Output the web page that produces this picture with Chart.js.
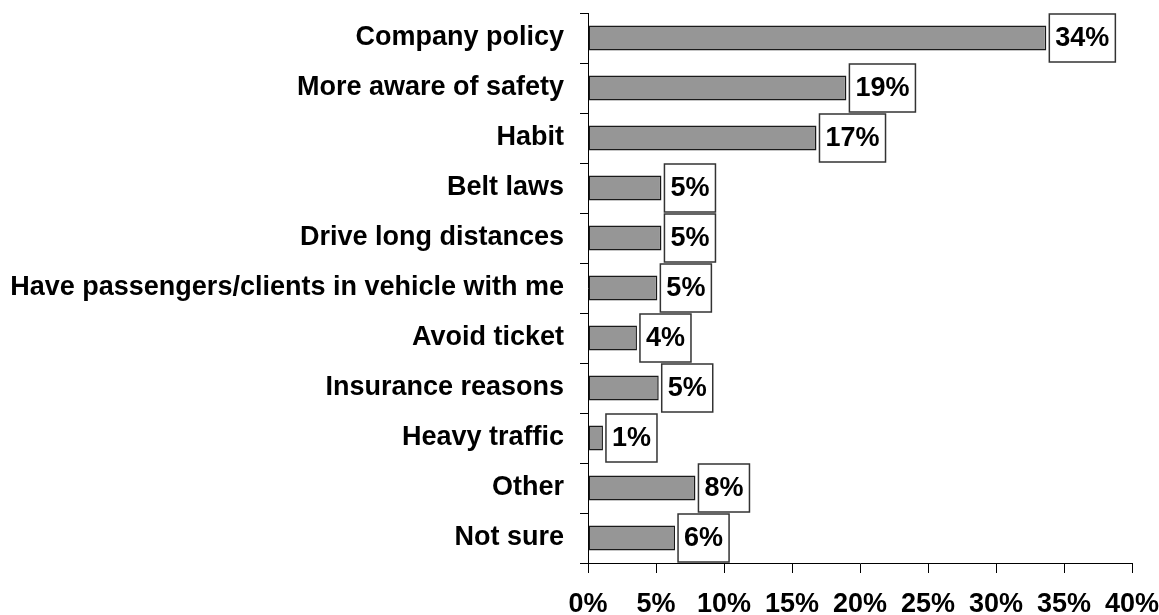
<!DOCTYPE html>
<html lang="en">
<head>
    <meta charset="UTF-8">
    <script src="https://cdn.jsdelivr.net/npm/chart.js@4.4.1/dist/chart.umd.min.js"></script>
    <title>Reasons for wearing a seat belt</title>
    <style type="text/css">
        html, body {
            margin: 0;
            padding: 0;
            background: #ffffff;
        }
        #wrap {
            width: 1159px;
            height: 615px;
        }
    </style>
</head>
<body>
<div id="wrap">
    <canvas id="reasons"></canvas>
</div>
<script>
var reasons = [
    'Company policy',
    'More aware of safety',
    'Habit',
    'Belt laws',
    'Drive long distances',
    'Have passengers/clients in vehicle with me',
    'Avoid ticket',
    'Insurance reasons',
    'Heavy traffic',
    'Other',
    'Not sure'
];
// share of respondents, percent
var shares = [33.7, 19.0, 16.8, 5.4, 5.4, 5.1, 3.6, 5.2, 1.1, 7.9, 6.4];

var axisMin = 0;
var axisMax = 40;
var axisStep = 5;

var FONT = "'Liberation Sans', Arial, Helvetica, sans-serif";

// white boxed percent labels to the right of each bar
var boxLabels = {
    id: 'boxLabels',
    afterDatasetsDraw: function (chart) {
        var ctx = chart.ctx;
        var meta = chart.getDatasetMeta(0);
        ctx.save();
        ctx.font = 'bold 27px ' + FONT;
        ctx.textBaseline = 'middle';
        ctx.textAlign = 'left';
        meta.data.forEach(function (bar, i) {
            var text = Math.round(shares[i]) + '%';
            var w = ctx.measureText(text).width + 12;
            var h = 48;
            var left = bar.x + 3;
            var top = bar.y - h / 2;
            ctx.fillStyle = '#ffffff';
            ctx.fillRect(left, top, w, h);
            ctx.lineWidth = 1.5;
            ctx.strokeStyle = '#333333';
            ctx.strokeRect(left, top, w, h);
            ctx.fillStyle = '#000000';
            ctx.fillText(text, left + 6, bar.y + 1);
        });
        ctx.restore();
    }
};

var chart = new Chart(document.getElementById('reasons'), {
    type: 'bar',
    data: {
        labels: reasons,
        datasets: [{
            data: shares,
            backgroundColor: '#969696',
            borderColor: '#1a1a1a',
            borderWidth: 1.5,
            borderSkipped: false,
            barPercentage: 0.5,
            categoryPercentage: 1
        }]
    },
    plugins: [boxLabels],
    options: {
        indexAxis: 'y',
        responsive: true,
        maintainAspectRatio: false,
        animation: false,
        layout: {padding: {top: 13, left: 0, right: 0, bottom: 0}},
        plugins: {
            legend: {display: false},
            tooltip: {enabled: false}
        },
        scales: {
            x: {
                min: axisMin,
                max: axisMax,
                ticks: {
                    stepSize: axisStep,
                    color: '#000000',
                    padding: 18,
                    font: {family: FONT, size: 27, weight: 'bold', lineHeight: 1},
                    callback: function (v) { return v + '%'; }
                },
                grid: {
                    drawOnChartArea: false,
                    tickLength: 10,
                    color: '#000000'
                },
                border: {color: '#000000', width: 1},
                afterFit: function (scale) {
                    scale.height = 52;
                    scale.paddingLeft = 0;
                    scale.paddingRight = 27;
                }
            },
            y: {
                ticks: {
                    color: '#000000',
                    padding: 16,
                    font: {family: FONT, size: 27, weight: 'bold', lineHeight: 1}
                },
                grid: {
                    drawOnChartArea: false,
                    tickLength: 8,
                    color: '#000000'
                },
                border: {color: '#000000', width: 1},
                afterFit: function (scale) {
                    scale.width = 588;
                    scale.paddingTop = 0;
                    scale.paddingBottom = 0;
                }
            }
        }
    }
});
</script>
</body>
</html>
